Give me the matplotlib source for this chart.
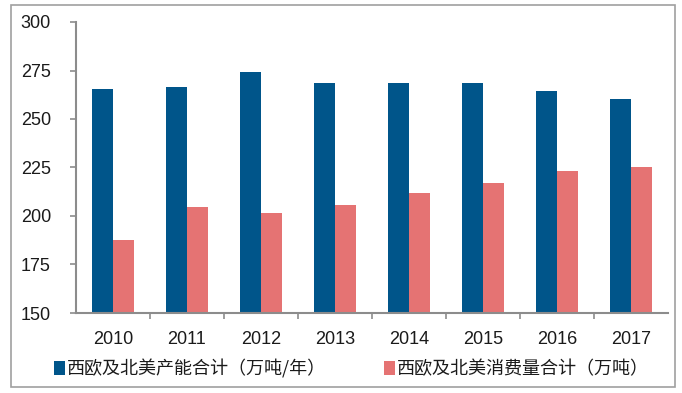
import numpy as np
import matplotlib.pyplot as plt
from matplotlib.patches import Rectangle

years = ['2010', '2011', '2012', '2013', '2014', '2015', '2016', '2017']
capacity = [265.5, 266.5, 274, 268.7, 268.7, 268.7, 264.4, 260.3]
consumption = [187.8, 204.5, 201.4, 205.5, 211.7, 217.0, 223.0, 225.1]
labels = ['西欧及北美产能合计（万吨/年）', '西欧及北美消费量合计（万吨）']

blue = '#00558A'
pink = '#E57373'
grey = '#8C8C8C'
num_font = ['Liberation Sans', 'DejaVu Sans']
cjk_font = ['Noto Sans CJK SC', 'DejaVu Sans']

fig = plt.figure(figsize=(6.82, 3.93), dpi=100)
ax = fig.add_axes([76 / 682, 1 - 313 / 393, (668 - 76) / 682, (313 - 22) / 393])

x = np.arange(len(years))
w = 0.28
b1 = ax.bar(x - w / 2, np.array(capacity) - 150, w, bottom=150, color=blue, label=labels[0])
b2 = ax.bar(x + w / 2, np.array(consumption) - 150, w, bottom=150, color=pink, label=labels[1])

ax.set_xlim(-0.5, len(years) - 0.5)
ax.set_ylim(150, 300)
ax.set_yticks([150, 175, 200, 225, 250, 275, 300])

ax.set_xticks(x)
ax.set_xticklabels(years, fontfamily=num_font, fontsize=13, color='#1a1a1a')
ax.set_xticks(np.arange(0.5, len(years) - 1, 1), minor=True)
ax.tick_params(axis='x', which='major', length=0, pad=13)
ax.tick_params(axis='x', which='minor', length=4, direction='out', color=grey, width=1.2)
ax.tick_params(axis='y', length=4, direction='out', color=grey, width=1.2, pad=14,
               labelsize=13, labelcolor='#1a1a1a')
for t in ax.get_yticklabels():
    t.set_fontfamily(num_font)

for s in ['top', 'right']:
    ax.spines[s].set_visible(False)
for s in ['left', 'bottom']:
    ax.spines[s].set_color(grey)
    ax.spines[s].set_linewidth(1.5)

# legend below the axis
leg = fig.legend(handles=[b1, b2], labels=labels, loc='center left',
                 bbox_to_anchor=(38 / 682, 1 - 369 / 393), ncol=2, frameon=False,
                 handlelength=0.6, handleheight=0.8, handletextpad=0.1,
                 columnspacing=3.2, prop={'family': cjk_font, 'size': 13})
for t in leg.get_texts():
    t.set_color('#1a1a1a')

# outer frame
fig.patches.append(Rectangle((11 / 682, 1 - 387 / 393), (675 - 11) / 682, (387 - 5) / 393,
                             transform=fig.transFigure, fill=False, edgecolor='#A0A0A0',
                             linewidth=1.2))

fig.savefig('out.png', dpi=100)
